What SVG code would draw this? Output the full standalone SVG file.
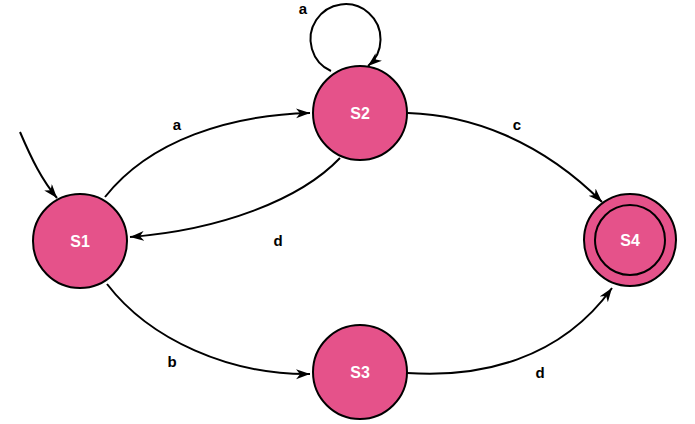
<svg xmlns="http://www.w3.org/2000/svg" width="695" height="424" viewBox="0 0 695 424">
<style>
.st{fill:#E5528A;stroke:#000;stroke-width:2}
.in{fill:none;stroke:#000;stroke-width:2}
.nl{font-family:"Liberation Sans",Arial,sans-serif;font-weight:bold;font-size:16px;fill:#fff;text-anchor:middle}
.el{font-family:"Liberation Sans",Arial,sans-serif;font-weight:bold;font-size:15px;fill:#000;text-anchor:middle}
.e{fill:none;stroke:#000;stroke-width:2;marker-end:url(#ah)}
</style>
<defs>
<marker id="ah" markerUnits="userSpaceOnUse" markerWidth="16" markerHeight="12" refX="14" refY="5" orient="auto">
<path d="M0,0 L14,5 L0,10 L4,5 z" fill="#000"/>
</marker>
</defs>
<g id="edges">
<path class="e" d="M20,132 C32,160 42,180 57,198"/>
<path class="e" d="M105,197 C150,140 230,115 310,113"/>
<path class="e" d="M340,158 C300,200 220,230 130,237"/>
<path class="e" d="M408,113 C470,115 540,140 602,202"/>
<path class="e" d="M107,284 C150,340 230,375 310,374"/>
<path class="e" d="M407,373 C480,378 560,360 612,288"/>
<path class="e" d="M331,71 A35,35 0 1 1 368,66"/>
<text class="el" x="303" y="14">a</text>
<text class="el" x="177" y="130">a</text>
<text class="el" x="278" y="246">d</text>
<text class="el" x="517" y="130">c</text>
<text class="el" x="172" y="367">b</text>
<text class="el" x="540" y="378">d</text>
</g>
<g id="S1"><circle class="st" cx="80" cy="241" r="47"/><text class="nl" x="80" y="247">S1</text></g>
<g id="S2"><circle class="st" cx="360" cy="113" r="47"/><text class="nl" x="360" y="119">S2</text></g>
<g id="S3"><circle class="st" cx="360" cy="372" r="47"/><text class="nl" x="360" y="378">S3</text></g>
<g id="S4"><circle class="st" cx="630" cy="240" r="46"/><circle class="in" cx="630" cy="240" r="35"/><text class="nl" x="630" y="246">S4</text></g>
</svg>
